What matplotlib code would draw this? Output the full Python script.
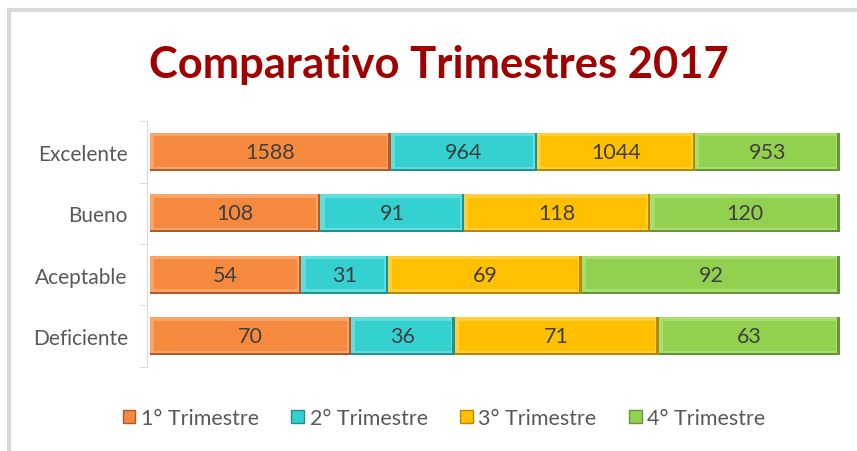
import matplotlib.pyplot as plt
import matplotlib.patches as mpatches
from matplotlib.patches import Rectangle
import numpy as np

categories = ['Excelente', 'Bueno', 'Aceptable', 'Deficiente']
series_names = ['1° Trimestre', '2° Trimestre', '3° Trimestre', '4° Trimestre']
q1 = [1588, 108, 54, 70]
q2 = [964, 91, 31, 36]
q3 = [1044, 118, 69, 71]
q4 = [953, 120, 92, 63]

colors = ['#F58A3F', '#35D0D0', '#FFC000', '#92D050']
dark = ['#B0592A', '#1F9193', '#B88900', '#66943A']
light = ['#F9A56A', '#62DEDE', '#FFCF40', '#A8DD70']

plt.rcParams['font.family'] = ['Lato', 'DejaVu Sans']

fig = plt.figure(figsize=(8.57, 4.52), dpi=100)
ax = fig.add_axes([0.175, 0.186, 0.805, 0.544])

data = np.array([q1, q2, q3, q4], dtype=float)
pct = data / data.sum(axis=0) * 100
y = np.arange(len(categories))
h = 0.62
left = np.zeros(len(categories))
for i in range(4):
    w = pct[i]
    # simple bevel look: dark base, light top strip, main face
    ax.barh(y, w, left=left, height=h, color=dark[i], edgecolor='none')
    ax.barh(y - 0.015, w - 0.35, left=left, height=h - 0.03, color=light[i], edgecolor='none')
    ax.barh(y - 0.005, w - 1.2, left=left + 0.6, height=h - 0.13, color=colors[i], edgecolor='none')
    for yy, ll, ww, v in zip(y, left, w, data[i]):
        ax.text(ll + ww / 2, yy, f'{int(v)}', ha='center', va='center',
                fontsize=15.5, color='#404040')
    left += w

ax.set_xlim(0, 100)
ax.set_ylim(3.5, -0.5)
ax.set_yticks(y)
ax.set_yticklabels(categories)
ax.set_yticks(np.arange(-0.5, 4, 1), minor=True)
ax.tick_params(axis='y', which='major', length=0, pad=14, labelsize=15, labelcolor='#595959')
ax.tick_params(axis='y', which='minor', length=6, color='#d9d9d9', direction='out')
ax.set_xticks([])
for s in ['top', 'right', 'bottom']:
    ax.spines[s].set_visible(False)
ax.spines['left'].set_color('#d9d9d9')
ax.spines['left'].set_position(('outward', 2))

fig.text(0.512, 0.857, 'Comparativo Trimestres 2017', ha='center', va='center',
         fontsize=31.3, fontweight='bold', color='#A00000')

handles = [mpatches.Patch(facecolor=colors[i], edgecolor=dark[i], linewidth=1)
           for i in range(4)]
fig.legend(handles, series_names, loc='center', bbox_to_anchor=(0.518, 0.073),
           ncol=4, frameon=False, fontsize=15.5, labelcolor='#595959',
           handlelength=0.6, handleheight=0.6, handletextpad=0.25, columnspacing=1.5)

# chart border (light grey, top and left visible)
fig.patches.append(Rectangle((0.011, -0.1), 1.1, 1.076, transform=fig.transFigure,
                             fill=False, edgecolor='#d9d9d9', linewidth=3))

fig.savefig('out.png', dpi=100)
